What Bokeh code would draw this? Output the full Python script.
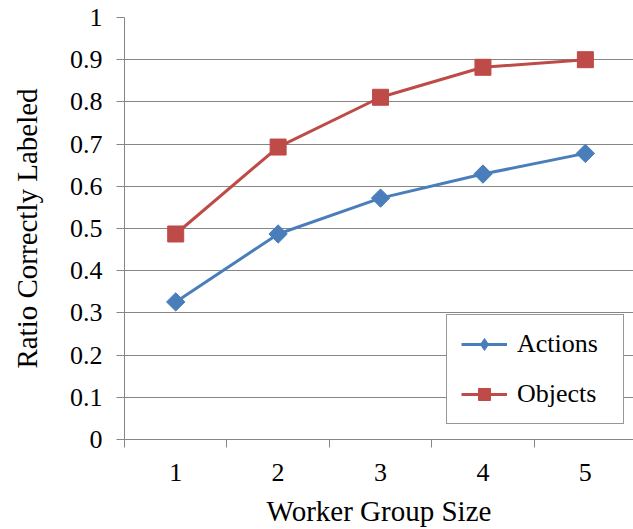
from bokeh.plotting import figure
from bokeh.models import Range1d, FixedTicker, Legend, LegendItem
from bokeh.embed import file_html
from bokeh.resources import INLINE
import numpy as np

# ---- data ----
group_sizes = [1, 2, 3, 4, 5]
actions = [0.326, 0.487, 0.572, 0.629, 0.678]
objects = [0.487, 0.693, 0.811, 0.882, 0.900]
y_ticks = [0, 0.1, 0.2, 0.3, 0.4, 0.5, 0.6, 0.7, 0.8, 0.9, 1]
y_tick_labels = ["0", "0.1", "0.2", "0.3", "0.4", "0.5", "0.6", "0.7", "0.8", "0.9", "1"]
x_between = [0.5, 1.5, 2.5, 3.5, 4.5]
x_title = "Worker Group Size"
y_title = "Ratio Correctly Labeled"

BLUE = "#4A7EBB"
RED = "#BE4B48"
GRID = "#868686"
FONT = "'Liberation Serif', 'Times New Roman', serif"

p = figure(width=633, height=529, output_backend="svg", toolbar_location=None,
           x_range=Range1d(0.5, 5.47), y_range=Range1d(0, 1),
           min_border_left=124, min_border_right=0, min_border_top=17, min_border_bottom=89)
p.outline_line_color = None
p.background_fill_color = "white"
p.border_fill_color = "white"

# grid
p.xgrid.visible = False
p.ygrid.ticker = FixedTicker(ticks=y_ticks)
p.ygrid.grid_line_color = GRID
p.ygrid.grid_line_width = 1

# x axis
xa = p.xaxis[0]
xa.ticker = FixedTicker(ticks=group_sizes, minor_ticks=x_between)
xa.major_tick_out = 0
xa.major_tick_in = 0
xa.minor_tick_out = 8
xa.minor_tick_in = 0
xa.minor_tick_line_color = GRID
xa.axis_line_color = GRID
xa.major_label_text_font = FONT
xa.major_label_text_font_size = "26px"
xa.major_label_text_color = "black"
xa.major_label_standoff = 16
xa.axis_label = x_title
xa.axis_label_text_font = FONT
xa.axis_label_text_font_size = "29px"
xa.axis_label_text_font_style = "normal"
xa.axis_label_text_color = "black"
xa.axis_label_standoff = 11

# y axis
ya = p.yaxis[0]
ya.ticker = FixedTicker(ticks=y_ticks, minor_ticks=[])
ya.major_label_overrides = {t: s for t, s in zip(y_ticks, y_tick_labels)}
ya.major_tick_out = 8
ya.major_tick_in = 0
ya.major_tick_line_color = GRID
ya.axis_line_color = GRID
ya.major_label_text_font = FONT
ya.major_label_text_font_size = "26px"
ya.major_label_text_color = "black"
ya.major_label_standoff = 14
ya.axis_label = y_title
ya.axis_label_text_font = FONT
ya.axis_label_text_font_size = "29px"
ya.axis_label_text_font_style = "normal"
ya.axis_label_text_color = "black"
ya.axis_label_standoff = 24

# series
l1 = p.line(group_sizes, actions, line_color=BLUE, line_width=3)
# diamond marker used for the legend swatch (hidden under the plot markers)
lg1 = p.scatter(group_sizes, actions, marker="diamond", size=10,
                fill_color=BLUE, line_color=BLUE)
m1 = p.scatter(group_sizes, actions, marker="square", angle=np.pi / 4, size=13,
               fill_color=BLUE, line_color=BLUE)
l2 = p.line(group_sizes, objects, line_color=RED, line_width=3)
m2 = p.scatter(group_sizes, objects, marker="square", size=16,
               fill_color=RED, line_color=RED)

legend = Legend(items=[LegendItem(label="Actions", renderers=[l1, lg1]),
                       LegendItem(label="Objects", renderers=[l2, m2])],
                location=(322, 15))
legend.label_text_font = FONT
legend.label_text_font_size = "26px"
legend.label_text_color = "black"
legend.glyph_width = 46
legend.glyph_height = 30
legend.label_height = 30
legend.label_width = 92
legend.label_standoff = 10
legend.spacing = 20
legend.padding = 14
legend.margin = 0
legend.border_line_color = "#303030"
legend.border_line_width = 1
legend.background_fill_alpha = 1
p.add_layout(legend)

open("out.html", "w").write(file_html(p, INLINE))
